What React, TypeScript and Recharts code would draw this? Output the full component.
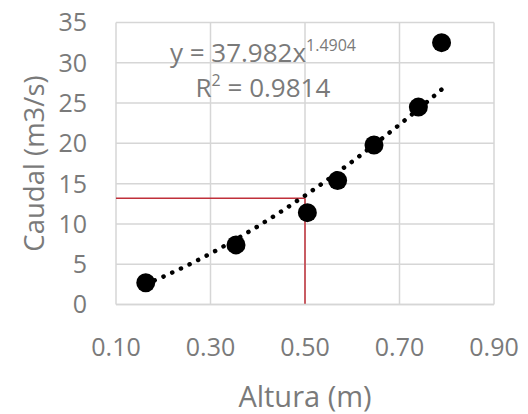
import React from "react";
import {
  ScatterChart,
  Scatter,
  XAxis,
  YAxis,
  CartesianGrid,
  ReferenceLine,
  ReferenceDot,
} from "recharts";

// Measured stage (m) and discharge (m3/s)
const alturas = [0.163, 0.354, 0.505, 0.569, 0.646, 0.74, 0.789];
const caudales = [2.7, 7.4, 11.4, 15.4, 19.8, 24.5, 32.5];

// Power trendline y = a * x^b
const coefA = 37.982;
const coefB = 1.4904;
const r2 = 0.9814;
const trendX = [0.163, 0.2, 0.25, 0.3, 0.35, 0.4, 0.45, 0.5, 0.55, 0.6, 0.65, 0.7, 0.75, 0.789];

// Reading of discharge for a given stage
const lecturaAltura = 0.5;
const lecturaCaudal = 13.2;

const xTicks = [0.1, 0.3, 0.5, 0.7, 0.9];
const yTicks = [0, 5, 10, 15, 20, 25, 30, 35];

const puntos = alturas.map((x, i) => ({ x, y: caudales[i] }));
const tendencia = trendX.map((x) => ({ x, y: coefA * Math.pow(x, coefB) }));

const FONT = "'Open Sans', sans-serif";
const GRAY = "#7a7a7a";
const GRID = "#d6d6d6";
const RED = "#c0303a";

const Punto = (props: any) => (
  <circle cx={props.cx} cy={props.cy} r={9.5} fill="#000" />
);
const Nada = () => <g />;

const EquationLabel = (props: any) => {
  const vb = props.viewBox || {};
  const cx = vb.x + (vb.width || 0) / 2;
  const cy = vb.y + (vb.height || 0) / 2;
  return (
    <g fontFamily={FONT} fill={GRAY}>
      <text x={cx} y={cy} textAnchor="middle" fontSize={26}>
        <tspan>{`y = ${coefA}x`}</tspan>
        <tspan fontSize={16} dy={-11}>{coefB}</tspan>
      </text>
      <text x={cx} y={cy + 35} textAnchor="middle" fontSize={26}>
        <tspan>R</tspan>
        <tspan fontSize={16} dy={-11}>2</tspan>
        <tspan dy={11}>{` = ${r2}`}</tspan>
      </text>
    </g>
  );
};

const YTitle = (props: any) => {
  const vb = props.viewBox;
  const x = 33;
  const y = vb.y + vb.height / 2;
  return (
    <text
      x={x}
      y={y}
      transform={`rotate(-90 ${x} ${y})`}
      textAnchor="middle"
      dominantBaseline="central"
      fontFamily={FONT}
      fontSize={27.5}
      fill={GRAY}
    >
      Caudal (m3/s)
    </text>
  );
};

const XTitle = (props: any) => {
  const vb = props.viewBox;
  return (
    <text
      x={vb.x + vb.width / 2}
      y={vb.y + 102}
      textAnchor="middle"
      fontFamily={FONT}
      fontSize={29}
      fill={GRAY}
    >
      Altura (m)
    </text>
  );
};

export default function App() {
  return (
    <div style={{ position: "fixed", left: 0, top: 0, background: "#fff" }}>
      <ScatterChart
        width={528}
        height={414}
        margin={{ top: 22.5, right: 34, bottom: 0, left: 0 }}
      >
        <CartesianGrid stroke={GRID} strokeWidth={1.5} />
        <XAxis
          type="number"
          dataKey="x"
          domain={[0.1, 0.9]}
          ticks={xTicks}
          allowDataOverflow
          tickFormatter={(v: number) => v.toFixed(2)}
          tick={{ fill: GRAY, fontSize: 25, fontFamily: FONT }}
          tickLine={false}
          tickSize={0}
          tickMargin={34}
          axisLine={{ stroke: GRID, strokeWidth: 1.5 }}
          height={109.5}
          label={{ content: XTitle }}
        />
        <YAxis
          type="number"
          dataKey="y"
          domain={[0, 35]}
          ticks={yTicks}
          allowDataOverflow
          tick={{ fill: GRAY, fontSize: 25, fontFamily: FONT }}
          tickLine={false}
          tickSize={0}
          tickMargin={29}
          axisLine={false}
          width={116}
          label={{ content: YTitle }}
        />
        <ReferenceLine
          segment={[
            { x: 0.1, y: lecturaCaudal },
            { x: lecturaAltura, y: lecturaCaudal },
          ]}
          stroke={RED}
          strokeWidth={1.5}
        />
        <ReferenceLine
          segment={[
            { x: lecturaAltura, y: 0 },
            { x: lecturaAltura, y: lecturaCaudal },
          ]}
          stroke={RED}
          strokeWidth={1.5}
        />
        <Scatter
          data={puntos}
          fill="#000"
          shape={Punto}
          isAnimationActive={false}
        />
        <Scatter
          data={tendencia}
          shape={Nada}
          line={{
            stroke: "#000",
            strokeWidth: 4.5,
            strokeDasharray: "0.1 9.5",
            strokeLinecap: "round",
          }}
          isAnimationActive={false}
        />
        <ReferenceDot
          x={0.411}
          y={30.1}
          r={0}
          fill="none"
          stroke="none"
          label={{ content: EquationLabel }}
        />
      </ScatterChart>
    </div>
  );
}
